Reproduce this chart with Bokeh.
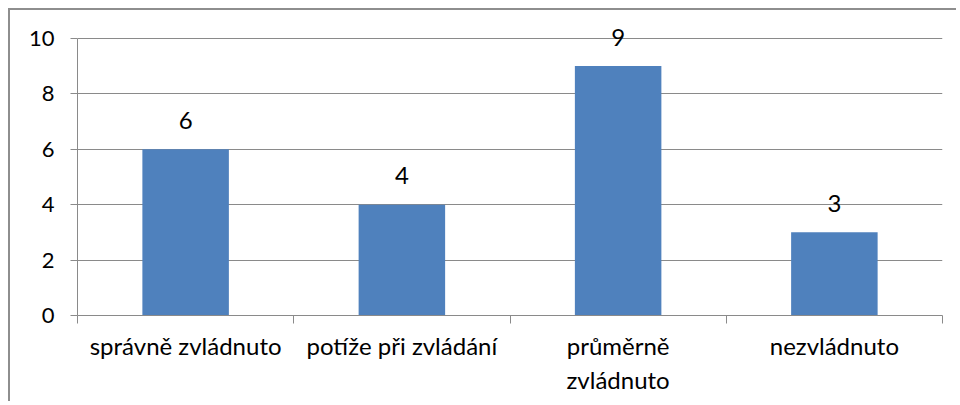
from bokeh.plotting import figure
from bokeh.models import Range1d, FixedTicker, ColumnDataSource
from bokeh.embed import file_html
from bokeh.resources import INLINE
from bokeh.core.properties import value

categories = ["správně zvládnuto", "potíže při zvládání", "průměrně\nzvládnuto", "nezvládnuto"]
counts = [6, 4, 9, 3]
y_ticks = [0, 2, 4, 6, 8, 10]

FONT = "Lato"
GREY = "#8a8a8a"
BLUE = "#4f81bd"

n = len(categories)
positions = [i + 0.5 for i in range(n)]
boundaries = [float(i) for i in range(n + 1)]
src = ColumnDataSource(dict(x=positions, top=counts, label=[str(c) for c in counts]))

p = figure(width=948, height=393, output_backend="svg", toolbar_location=None,
           x_range=Range1d(0, n), y_range=Range1d(0, 10.5),
           min_border_left=67, min_border_right=16, min_border_top=14, min_border_bottom=88,
           background_fill_color="white", border_fill_color="white",
           margin=(8, 0, 0, 8),
           styles={"border-left": "2px solid #8e8e8e", "border-top": "2px solid #8e8e8e"})
p.outline_line_color = None

p.vbar(x="x", top="top", width=0.4, source=src, fill_color=BLUE, line_color=None)
p.text(x="x", y="top", text="label", source=src, text_align="center", text_baseline="alphabetic",
       y_offset=-29, text_font=value(FONT), text_font_size="24px", text_color="black")

# x axis
xa = p.xaxis[0]
xa.ticker = FixedTicker(ticks=positions, minor_ticks=boundaries)
xa.major_label_overrides = {pos: cat for pos, cat in zip(positions, categories)}
xa.major_tick_in = 0
xa.major_tick_out = 0
xa.minor_tick_in = 0
xa.minor_tick_out = 8
xa.minor_tick_line_color = GREY
xa.axis_line_color = GREY
xa.major_label_standoff = 7
xa.major_label_text_font = FONT
xa.major_label_text_font_size = "24px"
xa.major_label_text_color = "black"

# y axis
ya = p.yaxis[0]
ya.ticker = FixedTicker(ticks=y_ticks, minor_ticks=[])
ya.bounds = (0, 10)
ya.major_tick_in = 0
ya.major_tick_out = 7
ya.major_tick_line_color = GREY
ya.axis_line_color = GREY
ya.major_label_standoff = 16
ya.major_label_text_font = FONT
ya.major_label_text_font_size = "22px"
ya.major_label_text_color = "black"

p.xgrid.visible = False
p.ygrid.ticker = FixedTicker(ticks=y_ticks)
p.ygrid.grid_line_color = GREY
p.ygrid.grid_line_width = 1

open("out.html", "w").write(file_html(p, INLINE))
